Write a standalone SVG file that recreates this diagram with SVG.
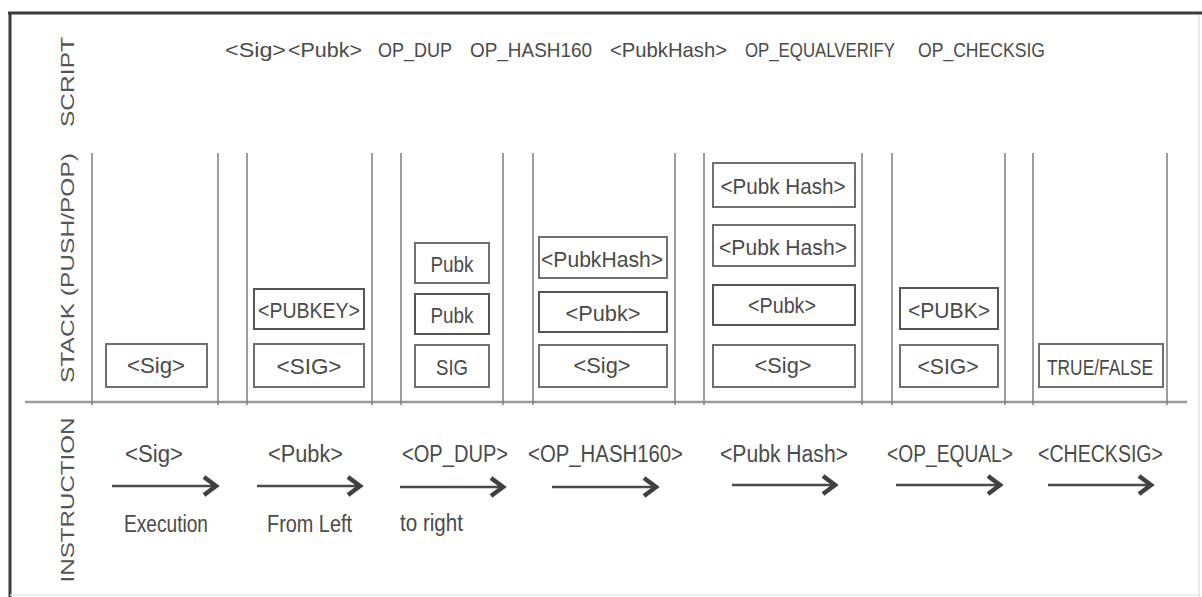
<svg xmlns="http://www.w3.org/2000/svg" width="1202" height="597" viewBox="0 0 1202 597">
<style>
.t{font-family:"Liberation Sans Narrow","Liberation Sans",Arial,sans-serif;fill:#4a4a4a;font-size:23px}
.sc{font-family:"Liberation Sans Narrow","Liberation Sans",Arial,sans-serif;fill:#4a4a4a;font-size:21px}
.s{font-family:"Liberation Sans Narrow","Liberation Sans",Arial,sans-serif;fill:#4a4a4a;font-size:22px;text-anchor:middle}
.lab{font-family:"Liberation Sans","Arial",sans-serif;fill:#555;font-size:19px;text-anchor:middle}
.box{fill:#fff;stroke:#707070;stroke-width:2}
.col{stroke:#858585;stroke-width:1.6}
.arr{stroke:#4a4a4a;stroke-width:2.5;fill:none;marker-end:url(#chev)}
</style>
<defs>
<marker id="chev" markerUnits="userSpaceOnUse" markerWidth="26" markerHeight="28" viewBox="-18 -14 22 28" refX="0" refY="0" orient="auto">
<path d="M-12,-9 L0,0 L-12,9" fill="none" stroke="#404040" stroke-width="4.5"/>
</marker>
</defs>
<rect x="0" y="0" width="1202" height="597" fill="#fff"/>
<g id="frame">
<line x1="8" y1="13" x2="1202" y2="13" stroke="#3a3a3a" stroke-width="3"/>
<line x1="10" y1="12" x2="10" y2="597" stroke="#3a3a3a" stroke-width="3"/>
<line x1="1199" y1="15" x2="1199" y2="597" stroke="#e2e2e2" stroke-width="1.5"/>
<line x1="10" y1="595" x2="1199" y2="595" stroke="#e8e8e8" stroke-width="1.5"/>
<line x1="25" y1="402" x2="1187" y2="402" stroke="#9a9a9a" stroke-width="2.5"/>
</g>
<g id="row-labels">
<text class="lab" transform="translate(74,82) rotate(-90)" textLength="90" lengthAdjust="spacingAndGlyphs">SCRIPT</text>
<text class="lab" transform="translate(74,268) rotate(-90)" textLength="230" lengthAdjust="spacingAndGlyphs">STACK (PUSH/POP)</text>
<text class="lab" transform="translate(74,500) rotate(-90)" textLength="165" lengthAdjust="spacingAndGlyphs">INSTRUCTION</text>
</g>
<g id="script">
<text class="sc" x="225" y="57" textLength="61" lengthAdjust="spacingAndGlyphs">&lt;Sig&gt;</text>
<text class="sc" x="288" y="57" textLength="74" lengthAdjust="spacingAndGlyphs">&lt;Pubk&gt;</text>
<text class="sc" x="378" y="57" textLength="74" lengthAdjust="spacingAndGlyphs">OP_DUP</text>
<text class="sc" x="470" y="57" textLength="122" lengthAdjust="spacingAndGlyphs">OP_HASH160</text>
<text class="sc" x="610" y="57" textLength="117" lengthAdjust="spacingAndGlyphs">&lt;PubkHash&gt;</text>
<text class="sc" x="745" y="57" textLength="150" lengthAdjust="spacingAndGlyphs">OP_EQUALVERIFY</text>
<text class="sc" x="918" y="57" textLength="127" lengthAdjust="spacingAndGlyphs">OP_CHECKSIG</text>
</g>
<g id="columns">
<line class="col" x1="92" y1="153" x2="92" y2="405"/>
<line class="col" x1="218" y1="153" x2="218" y2="405"/>
<line class="col" x1="247" y1="153" x2="247" y2="405"/>
<line class="col" x1="372" y1="153" x2="372" y2="405"/>
<line class="col" x1="401" y1="153" x2="401" y2="405"/>
<line class="col" x1="503" y1="153" x2="503" y2="405"/>
<line class="col" x1="533" y1="153" x2="533" y2="405"/>
<line class="col" x1="675" y1="153" x2="675" y2="405"/>
<line class="col" x1="704" y1="153" x2="704" y2="405"/>
<line class="col" x1="862" y1="153" x2="862" y2="405"/>
<line class="col" x1="892" y1="153" x2="892" y2="405"/>
<line class="col" x1="1005" y1="153" x2="1005" y2="405"/>
<line class="col" x1="1033" y1="153" x2="1033" y2="405"/>
<line class="col" x1="1167" y1="153" x2="1167" y2="405"/>
</g>
<g id="stack1">
<rect class="box" x="106" y="344" width="101" height="43"/>
<text class="s" x="156" y="373" textLength="58" lengthAdjust="spacingAndGlyphs">&lt;Sig&gt;</text>
</g>
<g id="stack2">
<rect class="box" x="254" y="289" width="110" height="40" style="stroke:#555"/>
<text class="s" x="309" y="318" textLength="102" lengthAdjust="spacingAndGlyphs">&lt;PUBKEY&gt;</text>
<rect class="box" x="254" y="344" width="110" height="43"/>
<text class="s" x="309" y="374" textLength="65" lengthAdjust="spacingAndGlyphs">&lt;SIG&gt;</text>
</g>
<g id="stack3">
<rect class="box" x="415" y="243" width="74" height="40"/>
<text class="s" x="452" y="272" textLength="43" lengthAdjust="spacingAndGlyphs">Pubk</text>
<rect class="box" x="415" y="294" width="74" height="40" style="stroke:#555"/>
<text class="s" x="452" y="323" textLength="43" lengthAdjust="spacingAndGlyphs">Pubk</text>
<rect class="box" x="415" y="345" width="74" height="42"/>
<text class="s" x="452" y="375" textLength="32" lengthAdjust="spacingAndGlyphs">SIG</text>
</g>
<g id="stack4">
<rect class="box" x="539" y="237" width="128" height="41"/>
<text class="s" x="602" y="267" textLength="122" lengthAdjust="spacingAndGlyphs">&lt;PubkHash&gt;</text>
<rect class="box" x="539" y="292" width="128" height="40" style="stroke:#555"/>
<text class="s" x="603" y="321" textLength="75" lengthAdjust="spacingAndGlyphs">&lt;Pubk&gt;</text>
<rect class="box" x="539" y="345" width="128" height="42"/>
<text class="s" x="602" y="373" textLength="57" lengthAdjust="spacingAndGlyphs">&lt;Sig&gt;</text>
</g>
<g id="stack5">
<rect class="box" x="713" y="163" width="142" height="44"/>
<text class="s" x="783" y="194" textLength="125" lengthAdjust="spacingAndGlyphs">&lt;Pubk Hash&gt;</text>
<rect class="box" x="713" y="225" width="142" height="41"/>
<text class="s" x="783" y="255" textLength="128" lengthAdjust="spacingAndGlyphs">&lt;Pubk Hash&gt;</text>
<rect class="box" x="713" y="285" width="142" height="40" style="stroke:#555"/>
<text class="s" x="782" y="313" textLength="68" lengthAdjust="spacingAndGlyphs">&lt;Pubk&gt;</text>
<rect class="box" x="713" y="345" width="142" height="42"/>
<text class="s" x="783" y="373" textLength="57" lengthAdjust="spacingAndGlyphs">&lt;Sig&gt;</text>
</g>
<g id="stack6">
<rect class="box" x="900" y="288" width="98" height="41" style="stroke:#555"/>
<text class="s" x="949" y="318" textLength="82" lengthAdjust="spacingAndGlyphs">&lt;PUBK&gt;</text>
<rect class="box" x="900" y="345" width="98" height="42"/>
<text class="s" x="948" y="374" textLength="61" lengthAdjust="spacingAndGlyphs">&lt;SIG&gt;</text>
</g>
<g id="stack7">
<rect class="box" x="1039" y="344" width="124" height="43"/>
<text class="s" x="1100" y="375" textLength="106" lengthAdjust="spacingAndGlyphs">TRUE/FALSE</text>
</g>
<g id="instructions">
<text class="t" x="125" y="462" textLength="58" lengthAdjust="spacingAndGlyphs">&lt;Sig&gt;</text>
<text class="t" x="268" y="462" textLength="75" lengthAdjust="spacingAndGlyphs">&lt;Pubk&gt;</text>
<text class="t" x="402" y="462" textLength="106" lengthAdjust="spacingAndGlyphs">&lt;OP_DUP&gt;</text>
<text class="t" x="528" y="462" textLength="155" lengthAdjust="spacingAndGlyphs">&lt;OP_HASH160&gt;</text>
<text class="t" x="720" y="462" textLength="128" lengthAdjust="spacingAndGlyphs">&lt;Pubk Hash&gt;</text>
<text class="t" x="887" y="462" textLength="126" lengthAdjust="spacingAndGlyphs">&lt;OP_EQUAL&gt;</text>
<text class="t" x="1038" y="462" textLength="125" lengthAdjust="spacingAndGlyphs">&lt;CHECKSIG&gt;</text>
<text class="t" x="124" y="532" textLength="84" lengthAdjust="spacingAndGlyphs">Execution</text>
<text class="t" x="267" y="532" textLength="85" lengthAdjust="spacingAndGlyphs">From Left</text>
<text class="t" x="400" y="531" textLength="63" lengthAdjust="spacingAndGlyphs">to right</text>
</g>
<g id="connectors">
<line class="arr" x1="112" y1="486" x2="216" y2="486"/>
<line class="arr" x1="257" y1="486" x2="360" y2="486"/>
<line class="arr" x1="400" y1="487" x2="503" y2="487"/>
<line class="arr" x1="552" y1="487" x2="656" y2="487"/>
<line class="arr" x1="732" y1="485" x2="835" y2="485"/>
<line class="arr" x1="896" y1="485" x2="1000" y2="485"/>
<line class="arr" x1="1048" y1="485" x2="1151" y2="485"/>
</g>
</svg>
